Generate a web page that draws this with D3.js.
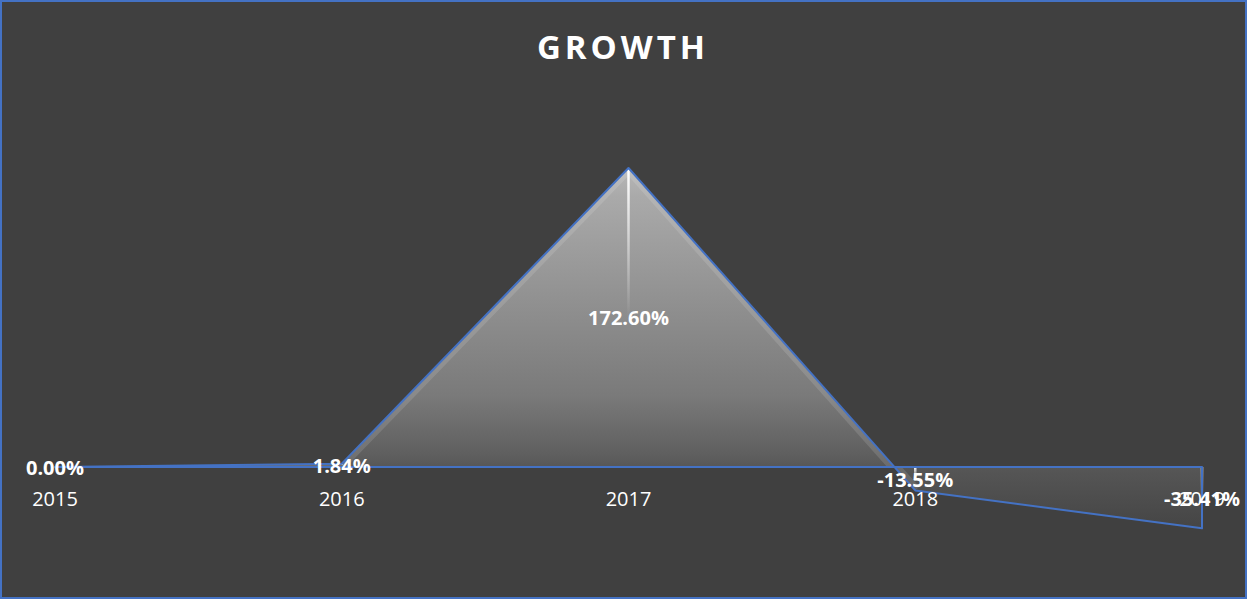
<!DOCTYPE html>
<html>
<head>
<meta charset="utf-8">
<script src="https://cdn.jsdelivr.net/npm/d3@7"></script>
<style>
  html, body { margin: 0; padding: 0; background: #404040; }
  svg { display: block; }
</style>
</head>
<body>
<svg id="chart" width="1247" height="599"></svg>
<script>
// Year-over-year growth, in percent
const years = ["2015", "2016", "2017", "2018", "2019"];
const growth = [0.00, 1.84, 172.60, -13.55, -35.41];
const valueLabels = ["0.00%", "1.84%", "172.60%", "-13.55%", "-35.41%"];
const chartTitle = "GROWTH";

const W = 1247, H = 599;
const svg = d3.select("#chart");
const data = years.map((y, i) => ({ year: y, value: growth[i], label: valueLabels[i] }));

// Background with blue frame
svg.append("rect")
  .attr("x", 1).attr("y", 1).attr("width", W - 2).attr("height", H - 2)
  .attr("fill", "#404040").attr("stroke", "#4472C4").attr("stroke-width", 2);

svg.append("text")
  .attr("x", 623).attr("y", 59)
  .attr("text-anchor", "middle")
  .attr("fill", "#ffffff")
  .style("font-family", "'Open Sans', sans-serif")
  .style("font-weight", 700)
  .style("font-size", "33px")
  .style("letter-spacing", "4px")
  .text(chartTitle);

const x = d3.scalePoint().domain(years).range([55, 1202]);
const y = d3.scaleLinear().domain([-50, 200]).range([553.6, 120.5]);

const defs = svg.append("defs");

// Vertical grey gradient for the area fill
const grad = defs.append("linearGradient")
  .attr("id", "areaFill")
  .attr("gradientUnits", "userSpaceOnUse")
  .attr("x1", 0).attr("x2", 0)
  .attr("y1", y(d3.max(growth))).attr("y2", y(d3.min(growth)));
[[0, "#b8b8b8"], [0.075, "#aaaaaa"], [0.63, "#7a7a7a"], [0.795, "#5f5f5f"],
 [0.84, "#555555"], [1, "#454545"]].forEach(([o, c]) =>
  grad.append("stop").attr("offset", o).attr("stop-color", c));

// Drop line gradient: white fading downward
const dropGrad = defs.append("linearGradient")
  .attr("id", "dropFade")
  .attr("x1", 0).attr("x2", 0).attr("y1", 0).attr("y2", 1);
dropGrad.append("stop").attr("offset", 0).attr("stop-color", "#ffffff").attr("stop-opacity", 1);
dropGrad.append("stop").attr("offset", 0.5).attr("stop-color", "#ffffff").attr("stop-opacity", 0);

const area = d3.area()
  .x(d => x(d.year))
  .y0(y(0))
  .y1(d => y(d.value));

const line = d3.line()
  .x(d => x(d.year))
  .y(d => y(d.value));

defs.append("clipPath").attr("id", "areaClip")
  .append("path").attr("d", area(data));

svg.append("path")
  .attr("d", area(data))
  .attr("fill", "url(#areaFill)");

// Soft inner highlight along the top edge of the positive part
svg.append("path")
  .attr("d", line(data.filter(d => d.value >= 0 || d.year === "2018")))
  .attr("fill", "none")
  .attr("stroke", "#ffffff")
  .attr("stroke-opacity", 0.12)
  .attr("stroke-width", 11)
  .attr("clip-path", "url(#areaClip)");

// Drop lines from each point to the zero line
data.filter(d => d.value !== 0).forEach(d => {
  const top = Math.min(y(d.value), y(0));
  const bot = Math.max(y(d.value), y(0));
  svg.append("rect")
    .attr("x", x(d.year) - 1.25).attr("y", top)
    .attr("width", 2.5).attr("height", bot - top)
    .attr("fill", "url(#dropFade)");
});

svg.append("path")
  .attr("d", area(data))
  .attr("fill", "none")
  .attr("stroke", "#4472C4")
  .attr("stroke-width", 2)
  .attr("stroke-linejoin", "round");

// Category labels
svg.append("g").selectAll("text")
  .data(data).join("text")
  .attr("x", d => x(d.year))
  .attr("y", 506)
  .attr("text-anchor", "middle")
  .attr("fill", "#ffffff")
  .style("font-family", "'Open Sans', sans-serif")
  .style("font-size", "20px")
  .text(d => d.year);

// Value labels, centred between the point and the zero line
svg.append("g").selectAll("text")
  .data(data).join("text")
  .attr("x", d => x(d.year))
  .attr("y", d => (y(d.value) + y(0)) / 2 + 8)
  .attr("text-anchor", "middle")
  .attr("fill", "#ffffff")
  .style("font-family", "'Open Sans', sans-serif")
  .style("font-weight", 700)
  .style("font-size", "20px")
  .text(d => d.label);
</script>
</body>
</html>
